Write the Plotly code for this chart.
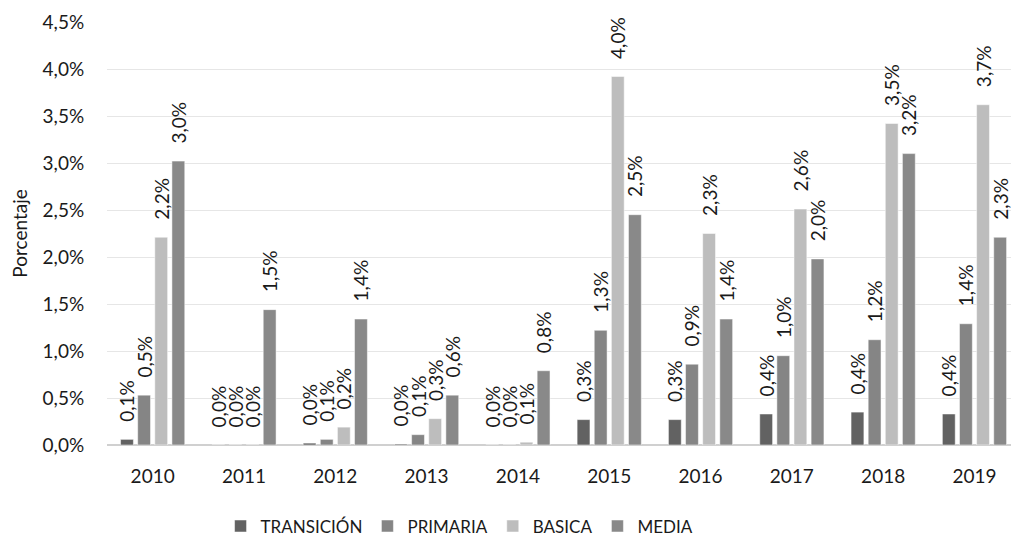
import plotly.graph_objects as go

years = ['2010', '2011', '2012', '2013', '2014', '2015', '2016', '2017', '2018', '2019']

# values (percent)
transicion = [0.06, 0.0, 0.02, 0.01, 0.0, 0.27, 0.27, 0.33, 0.35, 0.33]
primaria = [0.53, 0.0, 0.06, 0.11, 0.0, 1.22, 0.86, 0.95, 1.12, 1.29]
basica = [2.21, 0.0, 0.19, 0.28, 0.03, 3.92, 2.25, 2.51, 3.42, 3.62]
media = [3.02, 1.44, 1.34, 0.53, 0.79, 2.45, 1.34, 1.98, 3.10, 2.21]

# data labels as printed on the chart
lab_transicion = ['0,1%', '0,0%', '0,0%', '0,0%', '0,0%', '0,3%', '0,3%', '0,4%', '0,4%', '0,4%']
lab_primaria = ['0,5%', '0,0%', '0,1%', '0,1%', '0,0%', '1,3%', '0,9%', '1,0%', '1,2%', '1,4%']
lab_basica = ['2,2%', '0,0%', '0,2%', '0,3%', '0,1%', '4,0%', '2,3%', '2,6%', '3,5%', '3,7%']
lab_media = ['3,0%', '1,5%', '1,4%', '0,6%', '0,8%', '2,5%', '1,4%', '2,0%', '3,2%', '2,3%']

series = [
    ('TRANSICIÓN', transicion, lab_transicion, '#626262'),
    ('PRIMARIA', primaria, lab_primaria, '#858585'),
    ('BASICA', basica, lab_basica, '#bdbdbd'),
    ('MEDIA', media, lab_media, '#898989'),
]

font_family = 'Lato, Open Sans, sans-serif'
pad = '\u00a0\u00a0\u00a0'  # keeps the labels a bit off the bar tops

fig = go.Figure()
for name, vals, labs, col in series:
    fig.add_trace(go.Bar(x=years, y=vals, name=name, marker_color=col,
                         text=[pad + t for t in labs], textposition='outside', textangle=-90,
                         constraintext='none', cliponaxis=False,
                         textfont=dict(size=19, color='#1a1a1a', family=font_family)))

# page body has an 8px margin all round, so keep the figure inside the window
fig.update_layout(
    width=1003, height=529,
    template='plotly_white',
    barmode='group', bargap=0.25, bargroupgap=0.25,
    separators=',.',
    margin=dict(l=99, r=0, t=14, b=92, autoexpand=False),
    font=dict(family=font_family, color='#1a1a1a', size=18),
    showlegend=True,
    legend=dict(orientation='h', x=0.39, xanchor='center', y=-0.15, yanchor='top',
                font=dict(size=17), traceorder='normal'),
    yaxis=dict(title=dict(text='Porcentaje', font=dict(size=19), standoff=14),
               range=[0, 4.5], dtick=0.5, tickformat='.1f', ticksuffix='%',
               ticks='outside', ticklen=18, tickcolor='rgba(0,0,0,0)',
               gridcolor='#e6e6e6', zeroline=True, zerolinecolor='#d0d0d0',
               showline=False, tickfont=dict(size=19)),
    xaxis=dict(range=[-0.5, 9.4], ticks='outside', ticklen=14, tickcolor='rgba(0,0,0,0)',
               tickfont=dict(size=19), showline=False),
    plot_bgcolor='white', paper_bgcolor='white',
)

fig.write_html('out.html')
